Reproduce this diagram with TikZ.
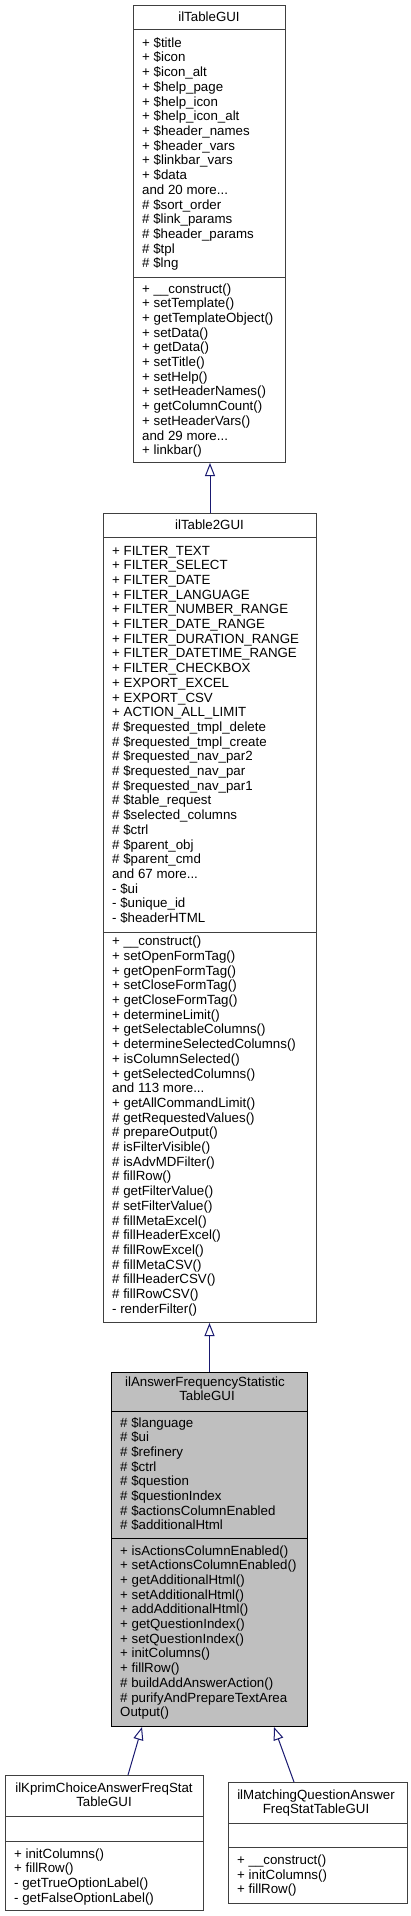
\documentclass[tikz,border=0pt]{standalone}
\usepackage{fontspec}
\setmainfont{Liberation Sans}
\usetikzlibrary{arrows.meta,calc}
\definecolor{navyline}{HTML}{191970}
\definecolor{boxgray}{HTML}{404040}
\definecolor{curfill}{HTML}{BFBFBF}
\newcommand\fs{\fontsize{13.3}{14.7}\selectfont}
\newcommand\mydots{...}
\newcommand\memlist[4]{\foreach \m [count=\i from 0] in {#4} \node[mem] (#1-\i) at (#2,{#3+\i*14.7}) {\m};}
\tikzset{
  cls/.style={draw=boxgray, line width=1pt, rectangle, inner sep=0pt, anchor=north west},
  curcls/.style={cls, draw=black, fill=curfill},
  mem/.style={inner sep=0pt, anchor=base west, font=\fs},
  ttl/.style={inner sep=0pt, anchor=base, font=\fs},
  sepline/.style={draw=boxgray, line width=1pt},
  cursep/.style={draw=black, line width=1pt},
  inh/.style={draw=navyline, line width=1pt, -{Triangle[open, length=13pt, width=10pt, fill=white]}}
}
\begin{document}
\begin{tikzpicture}[x=1pt, y=-1pt]
\useasboundingbox[fill=white] (0,0) rectangle (410,1916);
% ilTableGUI
\node[cls, minimum width=152pt, minimum height=457pt] (A) at (133,5) {};
\draw[sepline] (A.west |- 0,30) -- (A.east |- 0,30);
\draw[sepline] (A.west |- 0,277) -- (A.east |- 0,277);
\node[ttl] (At) at (209,21.3) {ilTableGUI};
\memlist{Aa}{142}{47.3}{+ \$title, + \$icon, + \$icon\_alt, + \$help\_page, + \$help\_icon, + \$help\_icon\_alt, + \$header\_names, + \$header\_vars, + \$linkbar\_vars, + \$data, and 20 more\mydots, \# \$sort\_order, \# \$link\_params, \# \$header\_params, \# \$tpl, \# \$lng}
\memlist{Am}{142}{293}{+ \_\_construct(), + setTemplate(), + getTemplateObject(), + setData(), + getData(), + setTitle(), + setHelp(), + setHeaderNames(), + getColumnCount(), + setHeaderVars(), and 29 more\mydots, + linkbar()}
% ilTable2GUI
\node[cls, minimum width=213pt, minimum height=809pt] (B) at (103,513) {};
\draw[sepline] (B.west |- 0,537) -- (B.east |- 0,537);
\draw[sepline] (B.west |- 0,932) -- (B.east |- 0,932);
\node[ttl] (Bt) at (209.5,529.3) {ilTable2GUI};
\memlist{Ba}{112}{555}{+ FILTER\_TEXT, + FILTER\_SELECT, + FILTER\_DATE, + FILTER\_LANGUAGE, + FILTER\_NUMBER\_RANGE, + FILTER\_DATE\_RANGE, + FILTER\_DURATION\_RANGE, + FILTER\_DATETIME\_RANGE, + FILTER\_CHECKBOX, + EXPORT\_EXCEL, + EXPORT\_CSV, + ACTION\_ALL\_LIMIT, \# \$requested\_tmpl\_delete, \# \$requested\_tmpl\_create, \# \$requested\_nav\_par2, \# \$requested\_nav\_par, \# \$requested\_nav\_par1, \# \$table\_request, \# \$selected\_columns, \# \$ctrl, \# \$parent\_obj, \# \$parent\_cmd, and 67 more\mydots, - \$ui, - \$unique\_id, - \$headerHTML}
\memlist{Bm}{112}{945.7}{+ \_\_construct(), + setOpenFormTag(), + getOpenFormTag(), + setCloseFormTag(), + getCloseFormTag(), + determineLimit(), + getSelectableColumns(), + determineSelectedColumns(), + isColumnSelected(), + getSelectedColumns(), and 113 more\mydots, + getAllCommandLimit(), \# getRequestedValues(), \# prepareOutput(), \# isFilterVisible(), \# isAdvMDFilter(), \# fillRow(), \# getFilterValue(), \# setFilterValue(), \# fillMetaExcel(), \# fillHeaderExcel(), \# fillRowExcel(), \# fillMetaCSV(), \# fillHeaderCSV(), \# fillRowCSV(), - renderFilter()}
% ilAnswerFrequencyStatisticTableGUI
\node[curcls, minimum width=196pt, minimum height=354.5pt] (C) at (111,1371.5) {};
\draw[cursep] (C.west |- 0,1411.7) -- (C.east |- 0,1411.7);
\draw[cursep] (C.west |- 0,1538) -- (C.east |- 0,1538);
\node[ttl] (Ct1) at (205,1386) {ilAnswerFrequencyStatistic};
\node[ttl] (Ct2) at (207,1400.7) {TableGUI};
\memlist{Ca}{120}{1427}{\# \$language, \# \$ui, \# \$refinery, \# \$ctrl, \# \$question, \# \$questionIndex, \# \$actionsColumnEnabled, \# \$additionalHtml}
\memlist{Cm}{120}{1555}{+ isActionsColumnEnabled(), + setActionsColumnEnabled(), + getAdditionalHtml(), + setAdditionalHtml(), + addAdditionalHtml(), + getQuestionIndex(), + setQuestionIndex(), + initColumns(), + fillRow(), \# buildAddAnswerAction(), \# purifyAndPrepareTextArea, Output()}
% ilKprimChoiceAnswerFreqStatTableGUI
\node[cls, minimum width=198pt, minimum height=135pt] (D) at (5,1775) {};
\draw[sepline] (D.west |- 0,1816) -- (D.east |- 0,1816);
\draw[sepline] (D.west |- 0,1841) -- (D.east |- 0,1841);
\node[ttl] (Dt1) at (104,1792) {ilKprimChoiceAnswerFreqStat};
\node[ttl] (Dt2) at (104,1806.7) {TableGUI};
\memlist{Dm}{14}{1858}{+ initColumns(), + fillRow(), - getTrueOptionLabel(), - getFalseOptionLabel()}
% ilMatchingQuestionAnswerFreqStatTableGUI
\node[cls, minimum width=179pt, minimum height=121pt] (E) at (228,1782) {};
\draw[sepline] (E.west |- 0,1823) -- (E.east |- 0,1823);
\draw[sepline] (E.west |- 0,1847) -- (E.east |- 0,1847);
\node[ttl] (Et1) at (316,1799) {ilMatchingQuestionAnswer};
\node[ttl] (Et2) at (316,1813.7) {FreqStatTableGUI};
\memlist{Em}{237}{1864.5}{+ \_\_construct(), + initColumns(), + fillRow()}
% inheritance
\draw[inh] (B.north) -- (B.north |- A.south);
\draw[inh] (C.north) -- (C.north |- B.south);
\draw[inh] ($(D.north west)+(123,0)$) -- ($(C.south west)+(31,0)$);
\draw[inh] ($(E.north west)+(66,0)$) -- ($(C.south west)+(163,0)$);
\end{tikzpicture}
\end{document}
